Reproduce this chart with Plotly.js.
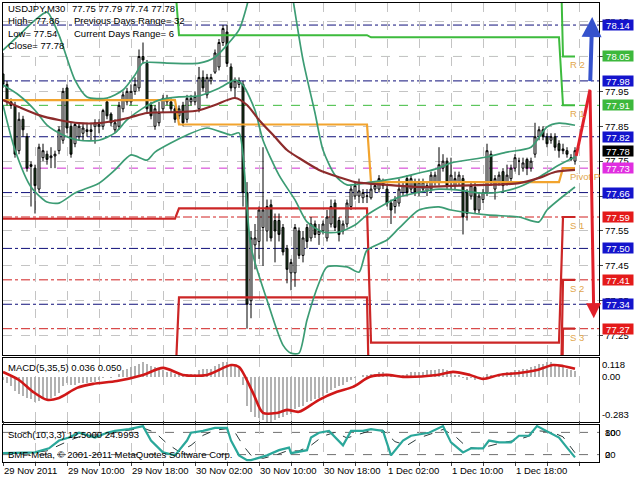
<!DOCTYPE html>
<html><head><meta charset="utf-8">
<script src="https://cdn.plot.ly/plotly-3.0.1.min.js"></script>
<style>html,body{margin:0;padding:0;background:#fff}#chart{width:640px;height:480px}</style>
</head><body><div id="chart"></div>
<script>
// ---------- price candles (USDJPY M30), bar 0 = 29 Nov 02:00 ----------
const openP = [78.00,77.97,77.92,77.91,77.78,77.87,77.82,77.74,77.73,77.67,77.76,77.77,77.76,77.765,77.78,77.81,77.96,77.85,77.80,77.82,77.83,77.835,77.84,77.85,77.85,77.85,77.92,77.885,77.84,77.85,77.90,77.92,77.92,77.95,77.96,78.05,78.03,77.91,77.85,77.86,77.90,77.92,77.92,77.90,77.88,77.91,77.87,77.92,77.92,77.90,77.99,77.94,77.98,78.005,78.02,78.09,78.12,78.02,77.96,77.97,77.97,77.66,77.35,77.51,77.52,77.56,77.55,77.625,77.58,77.58,77.56,77.50,77.43,77.43,77.55,77.48,77.56,77.53,77.57,77.54,77.55,77.53,77.57,77.63,77.58,77.55,77.57,77.62,77.65,77.65,77.645,77.65,77.645,77.67,77.67,77.68,77.67,77.63,77.62,77.63,77.66,77.70,77.67,77.69,77.66,77.67,77.665,77.67,77.69,77.69,77.73,77.75,77.69,77.68,77.69,77.70,77.66,77.65,77.675,77.61,77.64,77.66,77.77,77.67,77.69,77.72,77.69,77.70,77.73,77.75,77.73,77.755,77.73,77.77,77.82,77.84,77.82,77.81,77.82,77.80,77.785,77.78,77.76,77.75];
const highP = [78.06,77.98,77.93,77.92,77.89,77.88,77.83,77.75,77.74,77.80,77.80,77.78,77.79,77.78,77.85,77.96,77.97,77.86,77.86,77.86,77.86,77.86,77.86,77.87,77.87,77.90,77.93,77.89,77.87,77.92,77.95,77.96,77.97,77.99,78.07,78.09,78.04,77.92,77.91,77.92,77.94,77.94,77.93,77.91,77.91,77.92,77.94,77.94,77.95,78.02,78.01,78.00,78.00,78.07,78.10,78.14,78.14,78.03,77.99,77.99,77.98,77.69,77.55,77.57,77.62,77.79,77.64,77.64,77.60,77.60,77.57,77.51,77.47,77.57,77.56,77.55,77.57,77.59,77.58,77.57,77.58,77.61,77.64,77.64,77.59,77.58,77.64,77.68,77.69,77.70,77.67,77.67,77.69,77.69,77.71,77.70,77.68,77.64,77.65,77.70,77.69,77.71,77.71,77.70,77.70,77.70,77.69,77.72,77.72,77.79,77.77,77.76,77.76,77.72,77.72,77.71,77.67,77.69,77.69,77.66,77.67,77.80,77.78,77.71,77.72,77.73,77.74,77.74,77.77,77.76,77.76,77.76,77.76,77.86,77.85,77.85,77.83,77.83,77.83,77.81,77.80,77.79,77.77,77.79];
const lowP = [77.96,77.91,77.90,77.76,77.77,77.82,77.72,77.62,77.60,77.66,77.75,77.74,77.73,77.73,77.77,77.80,77.83,77.76,77.79,77.81,77.81,77.82,77.81,77.80,77.83,77.84,77.87,77.85,77.83,77.84,77.89,77.91,77.91,77.94,77.95,78.03,77.89,77.87,77.84,77.85,77.89,77.91,77.89,77.86,77.87,77.85,77.86,77.91,77.91,77.89,77.95,77.93,77.97,78.00,78.01,78.08,78.02,77.95,77.93,77.96,77.62,77.27,77.30,77.44,77.47,77.45,77.52,77.52,77.46,77.52,77.48,77.40,77.38,77.39,77.47,77.46,77.50,77.52,77.53,77.51,77.54,77.52,77.56,77.55,77.52,77.54,77.56,77.61,77.64,77.63,77.63,77.63,77.64,77.66,77.66,77.67,77.62,77.57,77.60,77.62,77.65,77.65,77.66,77.65,77.65,77.66,77.65,77.66,77.68,77.68,77.72,77.67,77.67,77.67,77.68,77.54,77.58,77.64,77.60,77.60,77.63,77.65,77.68,77.64,77.68,77.66,77.68,77.69,77.72,77.71,77.72,77.71,77.72,77.76,77.81,77.81,77.79,77.80,77.78,77.76,77.77,77.76,77.75,77.74];
const closeP = [77.97,77.92,77.91,77.77,77.87,77.84,77.73,77.735,77.68,77.79,77.78,77.755,77.765,77.77,77.84,77.95,77.845,77.77,77.855,77.85,77.845,77.84,77.835,77.86,77.855,77.895,77.88,77.86,77.86,77.91,77.94,77.95,77.95,77.97,78.05,78.04,77.90,77.88,77.90,77.89,77.93,77.93,77.90,77.87,77.90,77.86,77.93,77.93,77.935,77.99,77.96,77.99,77.99,78.06,78.09,78.13,78.03,77.96,77.98,77.98,77.66,77.34,77.53,77.53,77.61,77.61,77.62,77.53,77.55,77.54,77.49,77.44,77.46,77.56,77.48,77.53,77.52,77.57,77.54,77.55,77.57,77.59,77.62,77.56,77.54,77.57,77.63,77.67,77.68,77.665,77.66,77.65,77.67,77.68,77.70,77.69,77.63,77.61,77.64,77.67,77.68,77.66,77.70,77.66,77.69,77.69,77.68,77.71,77.71,77.74,77.75,77.68,77.71,77.70,77.71,77.59,77.60,77.68,77.61,77.65,77.66,77.78,77.69,77.70,77.71,77.68,77.71,77.73,77.76,77.75,77.745,77.73,77.75,77.82,77.84,77.82,77.80,77.82,77.79,77.78,77.78,77.77,77.755,77.78];

// x-axis labels (every 16 bars)
const timeLabels = ["29 Nov 2011","29 Nov 10:00","29 Nov 18:00","30 Nov 02:00","30 Nov 10:00","30 Nov 18:00","1 Dec 02:00","1 Dec 10:00","1 Dec 18:00"];

// Bollinger bands
const bbUpX = [0,4,8,11,14,18,21,26,30,33,35,41,49,53,56,59,61,63,66,70,72,75,78,80,83,86,92,99,104,109,112,121,126,132,136,139,143];
const bbUpY = [78.068,78.111,78.154,78.177,78.111,77.982,77.934,77.931,77.954,77.997,78.031,78.031,78.031,78.048,78.083,78.126,78.197,78.30,78.40,78.40,78.25,78.040,77.888,77.782,77.710,77.682,77.690,77.702,77.716,77.730,77.745,77.762,77.776,77.790,77.848,77.859,77.853];
const bbMidX = [0,4,8,11,15,19,24,28,31,35,39,44,49,54,58,60,63,65,69,73,76,80,84,88,91,95,99,104,109,114,119,124,129,134,139,143];
const bbMidY = [77.968,77.939,77.896,77.853,77.825,77.810,77.810,77.831,77.868,77.902,77.925,77.934,77.937,77.959,77.982,77.968,77.896,77.810,77.710,77.639,77.576,77.547,77.547,77.567,77.596,77.624,77.647,77.661,77.670,77.667,77.659,77.661,77.676,77.704,77.739,77.762];
const bbLowX = [0,3,7,11,14,18,24,28,32,36,38,46,51,57,59,60,62,66,70,72,74,76,79,81,86,89,91,96,99,104,109,112,121,129,134,136,143];
const bbLowY = [77.911,77.782,77.676,77.633,77.630,77.659,77.687,77.725,77.768,77.753,77.776,77.825,77.845,77.825,77.831,77.768,77.504,77.352,77.223,77.200,77.200,77.295,77.401,77.447,77.447,77.432,77.495,77.524,77.558,77.610,77.619,77.610,77.596,77.590,77.576,77.610,77.676];
// moving average (brown)
const maX = [0,4,9,14,19,24,29,32,36,45,49,53,58,61,64,68,71,74,79,84,88,96,104,112,121,129,134,138,143];
const maY = [77.925,77.905,77.882,77.868,77.859,77.859,77.868,77.876,77.888,77.891,77.896,77.911,77.931,77.911,77.868,77.819,77.782,77.759,77.725,77.704,77.690,77.682,77.676,77.679,77.682,77.687,77.702,77.719,77.725];

// daily pivot levels (4 days)
const dayStart = [0,44,92,140];
const dayEnd = [43,91,139,143];
const pivP  = [77.925,77.855,77.69,77.73];
const pivR1 = [78.26,78.111,78.105,77.91];
const pivR2 = [78.60,78.35,78.53,78.05];
const pivS1 = [77.585,77.615,77.23,77.59];
const pivS2 = [77.10,77.36,76.82,77.41];
const pivS3 = [76.80,77.05,76.40,77.27];
const pivNames = ["R 2","R 1","Pivot P","S 1","S 2","S 3"];

// horizontal level lines + price boxes on the right
const levelVals  = [78.14,78.05,77.98,77.91,77.82,77.78,77.73,77.66,77.59,77.50,77.41,77.34,77.27];
const levelKinds = ["fibo","res","fibo","res","fibo","bid","piv","fibo","sup","fibo","sup","fibo","sup"];
const priceTicks = [77.25,77.35,77.45,77.55,77.65,77.75,77.85,77.95,78.05,78.15];

// MACD(5,35,5)
const macdHist = [
-0.02,-0.04,-0.06,-0.09,-0.11,-0.12,-0.13,-0.14,
-0.16,-0.15,-0.14,-0.14,-0.13,-0.12,-0.10,-0.06,
-0.04,-0.05,-0.05,-0.04,-0.04,-0.04,-0.03,-0.03,
-0.02,-0.01,0.00,-0.01,0.00,0.02,0.04,0.05,
0.06,0.07,0.08,0.09,0.08,0.07,0.06,0.05,
0.04,0.03,0.03,0.02,0.02,0.01,0.02,0.02,
0.02,0.04,0.05,0.05,0.05,0.07,0.08,0.09,
0.09,0.08,0.07,0.06,-0.05,-0.18,-0.22,-0.25,
-0.26,-0.27,-0.28,-0.28,-0.27,-0.26,-0.25,-0.24,
-0.23,-0.20,-0.19,-0.18,-0.16,-0.15,-0.14,-0.13,
-0.12,-0.10,-0.08,-0.07,-0.06,-0.05,-0.03,-0.02,
-0.01,0.00,0.01,0.01,0.02,0.02,0.03,0.03,
0.02,0.01,0.01,0.01,0.01,0.02,0.03,0.03,
0.03,0.03,0.04,0.04,0.04,0.05,0.05,0.04,
0.03,0.01,0.01,-0.01,-0.02,-0.01,-0.02,-0.01,
0.00,0.02,0.01,0.01,0.02,0.02,0.03,0.03,
0.04,0.04,0.05,0.05,0.06,0.07,0.08,0.08,
0.09,0.09,0.08,0.07,0.06,0.05,0.04,0.036];
const macdSigX = [0,4,7.5,11,14,18.5,22.5,28.5,35,40,45,51,57,59,62.5,65,68.5,71,74,79,83.5,87.5,91.75,96,100,108.5,112.5,116.75,120,124,129,133.5,137.5,140,143];
const macdSigY = [0.03,-0.02,-0.094,-0.144,-0.132,-0.069,-0.044,-0.026,0.012,0.056,0.012,0.012,0.074,0.062,-0.10,-0.226,-0.226,-0.207,-0.219,-0.144,-0.094,-0.063,0.0,0.012,0.0,0.012,0.031,0.012,-0.013,0.012,0.024,0.043,0.074,0.068,0.05];

// Stochastic(10,3,3)
const stX = [0,4,8,11.5,14,16.5,19,23,26,28,31.5,35,37,40,43,46,47,50,53,56,57,59,61,62,66,69,71.5,72,76,77,79,81.5,85,87,90,92,95,97,100,102,106.5,110,112,115,117,120,121.5,124,127,129,131.5,133.5,136.5,139,141,143];
const stY = [24,24,26,37,58,66,79,66,79,84,89,97,58,26,18,58,79,84,92,92,58,18,5,5,18,32,39,24,32,66,79,84,45,84,84,89,84,18,58,71,79,97,53,26,37,37,58,53,53,71,71,97,79,66,39,12.5];
const stSigX = [0,6,11,14,17,20,23,26,29,32,35,38,41,44,47,50,53,56,58,60,62,65,68,71,74,77,80,83,86,89,92,95,98,101,104,107,110,113,116,119,122,125,128,131,134,137,140,143];
const stSigY = [25,24,30,45,60,72,72,74,82,88,92,80,50,28,45,72,86,90,80,45,18,10,18,30,30,45,70,80,65,75,85,86,55,45,65,76,88,70,40,36,45,53,58,68,84,82,68,25];

// drawn arrows (bar index, price)
const blueArrow = {x0:146.8, y0:77.975, x1:147.3, y1:78.163};
const redArrow  = {xa:143.3, ya:77.765, xb:146.75, yb:77.955, xc:147.7, yc:77.30};

const info = {sym:"USDJPY,M30", prevHigh:77.86, prevLow:77.54, prevRange:32, curRange:6};

// ---------------- build ----------------
const n = closeP.length;
const idx = closeP.map((_, k) => k);
const FONT = "Liberation Sans, Arial, sans-serif";
const PX = x => (x - 3) / 596;
const PY = y => (462 - y) / 459;

const traces = [];
traces.push({type:"candlestick", x:idx, open:openP, high:highP, low:lowP, close:closeP,
  xaxis:"x", yaxis:"y", whiskerwidth:0,
  increasing:{line:{color:"#000", width:1}, fillcolor:"#ffffff"},
  decreasing:{line:{color:"#000", width:1}, fillcolor:"#1f421f"},
  hoverinfo:"skip", showlegend:false});

function stepLine(vals, color, w) {
  const xs = [], ys = [];
  for (let d = 0; d < vals.length; d++) { xs.push(dayStart[d], dayEnd[d]); ys.push(vals[d], vals[d]); }
  return {type:"scatter", mode:"lines", x:xs, y:ys, xaxis:"x", yaxis:"y",
    line:{color:color, width:w}, hoverinfo:"skip", showlegend:false};
}
const Rcol = "#3dbb3d", Scol = "#cc2626", Pcol = "#f2a42e";
traces.push(stepLine(pivR2, Rcol, 2));
traces.push(stepLine(pivR1, Rcol, 2));
traces.push(stepLine(pivS1, Scol, 2.2));
traces.push(stepLine(pivS2, Scol, 2.2));
traces.push(stepLine(pivS3, Scol, 2.2));
traces.push(stepLine(pivP, Pcol, 2.2));

const bbCol = "#3c9c74";
[[bbUpX,bbUpY],[bbMidX,bbMidY],[bbLowX,bbLowY]].forEach(([xs,ys]) => {
  traces.push({type:"scatter", mode:"lines", x:xs, y:ys, xaxis:"x", yaxis:"y",
    line:{color:bbCol, width:1.7, shape:"spline", smoothing:0.7}, hoverinfo:"skip", showlegend:false});
});
traces.push({type:"scatter", mode:"lines", x:maX, y:maY, xaxis:"x", yaxis:"y",
  line:{color:"#8c2b2b", width:2.2, shape:"spline", smoothing:0.7}, hoverinfo:"skip", showlegend:false});

// MACD
traces.push({type:"bar", x:idx, y:macdHist, xaxis:"x", yaxis:"y2", width:0.45,
  marker:{color:"#b2b2b2", line:{width:0}}, hoverinfo:"skip", showlegend:false});
traces.push({type:"scatter", mode:"lines", x:macdSigX, y:macdSigY, xaxis:"x", yaxis:"y2",
  line:{color:"#d01818", width:2.6, shape:"spline", smoothing:0.8}, hoverinfo:"skip", showlegend:false});

// Stoch
traces.push({type:"scatter", mode:"lines", x:stSigX, y:stSigY, xaxis:"x", yaxis:"y3",
  line:{color:"#2a3a3a", width:1, dash:"dash"}, hoverinfo:"skip", showlegend:false});
traces.push({type:"scatter", mode:"lines", x:stX, y:stY, xaxis:"x", yaxis:"y3",
  line:{color:"#2aa79a", width:2.2}, hoverinfo:"skip", showlegend:false});

// shapes
const lineStyle = {
  fibo:{color:"#10107a", dash:"dashdot"},
  res:{color:"#3dbb3d", dash:"dash"},
  piv:{color:"#d030d0", dash:"dash"},
  sup:{color:"#d02020", dash:"dashdot"}
};
const boxColor = {fibo:"#1414cc", res:"#3cb83c", bid:"#000000", piv:"#e02ee0", sup:"#e41a1a"};
const shapes = [];
levelVals.forEach((v, k) => {
  const st = lineStyle[levelKinds[k]];
  if (!st) return;
  shapes.push({type:"line", xref:"paper", yref:"y", x0:0, x1:1, y0:v, y1:v,
    line:{color:st.color, width:1, dash:st.dash}, layer:"below"});
});
[80, 20].forEach(v => shapes.push({type:"line", xref:"paper", yref:"y3", x0:0, x1:1, y0:v, y1:v,
  line:{color:"#707070", width:1, dash:"dash"}, layer:"below"}));
shapes.push({type:"line", xref:"x", yref:"y", x0:redArrow.xa, y0:redArrow.ya, x1:redArrow.xb, y1:redArrow.yb,
  line:{color:"#e0202a", width:3}});

// annotations
const ann = [];
const txt = (x, y, s, size, color) => ann.push({xref:"paper", yref:"paper", x:PX(x), y:PY(y), text:s,
  showarrow:false, xanchor:"left", yanchor:"middle", font:{family:FONT, size:size||9.5, color:color||"#000"}});
const last = n - 1;
txt(6, 8, info.sym);
txt(70, 8, [openP[last], highP[last], lowP[last], closeP[last]].map(v => v.toFixed(2)).join(" "));
txt(6, 21, "High= " + info.prevHigh.toFixed(2));
txt(72, 21, "Previous Days Range= " + info.prevRange);
txt(6, 33, "Low= " + info.prevLow.toFixed(2));
txt(72, 33, "Current Days Range= " + info.curRange);
txt(6, 45, "Close= " + closeP[last].toFixed(2));
txt(6, 367, "MACD(5,35,5) 0.036 0.050");
txt(6, 434, "Stoch(10,3,3) 12.5000 24.9993");
txt(6, 454, "BMF-Meta, \u00a9 2001-2011 MetaQuotes Software Corp.");

levelVals.forEach((v, k) => {
  ann.push({xref:"paper", yref:"y", x:1, y:v, xanchor:"left", yanchor:"middle", xshift:3,
    text:v.toFixed(2), showarrow:false, bgcolor:boxColor[levelKinds[k]], width:30, height:10, borderpad:0,
    font:{family:FONT, size:9.5, color:"#fff"}});
});
// pivot level names for current day
const curVals = [pivR2[3], pivR1[3], pivP[3], pivS1[3], pivS2[3], pivS3[3]];
pivNames.forEach((s, k) => ann.push({xref:"x", yref:"y", x:dayStart[3] + 1.2, y:curVals[k],
  xanchor:"left", yanchor:"top", yshift:-1, text:s, showarrow:false,
  font:{family:FONT, size:9.5, color:"#e2a64c"}}));
// stoch scale labels
[["100",80],["80",80],["20",20],["0",20]].forEach(([s,v]) => ann.push({xref:"paper", yref:"y3", x:1, y:v,
  xanchor:"left", yanchor:"middle", xshift:4, text:s, showarrow:false, font:{family:FONT, size:9.5, color:"#000"}}));
// arrows
ann.push({xref:"x", yref:"y", axref:"x", ayref:"y", x:blueArrow.x1, y:blueArrow.y1, ax:blueArrow.x0, ay:blueArrow.y0,
  showarrow:true, arrowhead:2, arrowsize:1, arrowwidth:4, arrowcolor:"#3552cc", text:""});
ann.push({xref:"x", yref:"y", axref:"x", ayref:"y", x:redArrow.xc, y:redArrow.yc, ax:redArrow.xb, ay:redArrow.yb,
  showarrow:true, arrowhead:2, arrowsize:1, arrowwidth:3, arrowcolor:"#e0202a", text:""});

const tickIdx = [], tickTxt = [];
for (let k = 0; k <= 144; k += 8) { tickIdx.push(k); tickTxt.push(k % 16 === 0 ? (timeLabels[k/16] || "") : ""); }

const layout = {
  width:640, height:480, margin:{l:3, r:41, t:3, b:18},
  paper_bgcolor:"#fff", plot_bgcolor:"#fff", showlegend:false,
  font:{family:FONT, size:9.5, color:"#000"},
  bargap:0,
  xaxis:{range:[0,149], anchor:"y3", tickvals:tickIdx, ticktext:tickTxt, ticks:"outside", ticklen:3,
    tickangle:0, ticklabelposition:"outside right", tickfont:{family:FONT, size:9.5},
    showgrid:true, gridcolor:"#c4c4c4", griddash:"dash", gridwidth:1,
    showline:true, linecolor:"#000", linewidth:1, mirror:"all", zeroline:false,
    rangeslider:{visible:false}, fixedrange:true},
  yaxis:{domain:[0.2331,1], range:[77.1946,78.2032], side:"right", anchor:"x",
    tickvals:priceTicks, ticktext:priceTicks.map(v => v.toFixed(2)), ticks:"outside", ticklen:3,
    tickfont:{family:FONT, size:9.5}, showgrid:true, gridcolor:"#c4c4c4", griddash:"dash",
    showline:true, linecolor:"#000", mirror:true, zeroline:false, fixedrange:true},
  yaxis2:{domain:[0.0871,0.2266], range:[-0.283,0.118], side:"right", anchor:"x",
    tickvals:[0.074,0,-0.238], ticktext:["0.118","0.00","-0.283"], ticks:"",
    tickfont:{family:FONT, size:9.5}, showgrid:false, zeroline:false,
    showline:true, linecolor:"#000", mirror:true, fixedrange:true},
  yaxis3:{domain:[0,0.0806], range:[0,100], side:"right", anchor:"x", showticklabels:false, ticks:"",
    showgrid:false, zeroline:false, showline:true, linecolor:"#000", mirror:true, fixedrange:true},
  shapes:shapes, annotations:ann
};
Plotly.newPlot("chart", traces, layout, {staticPlot:true, displayModeBar:false});
</script></body></html>
